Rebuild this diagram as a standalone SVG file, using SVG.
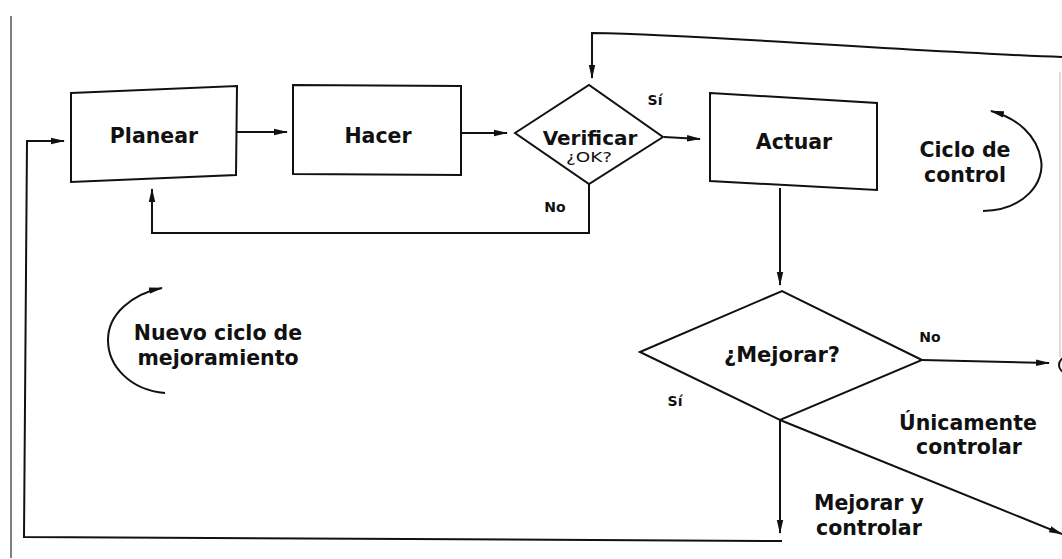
<svg xmlns="http://www.w3.org/2000/svg" width="1062" height="559" viewBox="0 0 1062 559">
  <style>
    .shape { fill: #fff; stroke: #111; stroke-width: 2; stroke-linejoin: miter; }
    .conn { fill: none; stroke: #111; stroke-width: 2; }
    .t { font-family: "DejaVu Sans", "Liberation Sans", sans-serif; font-weight: bold; fill: #111; text-anchor: middle; }
    .big { font-size: 20.5px; }
    .small { font-size: 14px; }
    .ok { font-family: "DejaVu Sans", "Liberation Sans", sans-serif; font-size: 14px; fill: #111; text-anchor: middle; }
  </style>
  <defs>
    <marker id="arr" markerUnits="userSpaceOnUse" markerWidth="14" markerHeight="8" refX="13" refY="4" orient="auto">
      <path d="M0,0.8 L14,4 L0,7.2 Z" fill="#111"/>
    </marker>
  </defs>
  <rect width="1062" height="559" fill="#fff"/>

  <!-- page edges -->
  <line x1="11" y1="16" x2="11" y2="558" stroke="#555" stroke-width="1.5"/>
  <line x1="1060" y1="72" x2="1060" y2="357" stroke="#bbb" stroke-width="1"/>

  <g id="connectors">
    <line class="conn" x1="237" y1="132" x2="287" y2="132" marker-end="url(#arr)"/>
    <line class="conn" x1="461" y1="133" x2="507" y2="133" marker-end="url(#arr)"/>
    <line class="conn" x1="664" y1="137" x2="700" y2="139" marker-end="url(#arr)"/>
    <path class="conn" d="M1062,57 C1000,55 900,49 800,43 C720,38 650,34 592,33 L592,78" marker-end="url(#arr)"/>
    <path class="conn" d="M589,184 L589,233 L152,233 L152,189" marker-end="url(#arr)"/>
    <path class="conn" d="M782,541 L24,537 L27,141 L64,141" marker-end="url(#arr)"/>
    <line class="conn" x1="780" y1="188" x2="780" y2="285" marker-end="url(#arr)"/>
    <line class="conn" x1="922" y1="360" x2="1049" y2="363" marker-end="url(#arr)"/>
    <line class="conn" x1="780" y1="420" x2="780" y2="533" marker-end="url(#arr)"/>
    <line class="conn" x1="780" y1="420" x2="1062" y2="534" marker-end="url(#arr)"/>
    <circle class="conn" cx="1067" cy="365" r="8"/>
    <path class="conn" d="M983,211 C1025,210 1045,182 1041,160 C1037,135 1017,118 991,111" marker-end="url(#arr)"/>
    <path class="conn" d="M165,393 C130,390 108,366 108,340 C108,314 132,294 162,288" marker-end="url(#arr)"/>
  </g>

  <g id="planear">
    <polygon class="shape" points="71,93 237,86 236,175 71,182"/>
    <text class="t big" x="154" y="143">Planear</text>
  </g>
  <g id="hacer">
    <polygon class="shape" points="293,85 461,86 461,175 293,174"/>
    <text class="t big" x="378" y="143">Hacer</text>
  </g>
  <g id="verificar">
    <polygon class="shape" points="515,133 589,85 663,137 589,184"/>
    <text class="t" x="590" y="145" font-size="20">Verificar</text>
    <text class="ok" x="589" y="162" textLength="46" lengthAdjust="spacingAndGlyphs">¿OK?</text>
  </g>
  <g id="actuar">
    <polygon class="shape" points="710,93 877,103 877,190 710,181"/>
    <text class="t big" x="794" y="149">Actuar</text>
  </g>
  <g id="mejorar">
    <polygon class="shape" points="640,352 782,291 922,360 780,420"/>
    <text class="t" x="782" y="362" font-size="21">¿Mejorar?</text>
  </g>

  <g id="labels">
    <text class="t small" x="655" y="105">Sí</text>
    <text class="t small" x="555" y="212">No</text>
    <text class="t small" x="930" y="342">No</text>
    <text class="t small" x="675" y="406">Sí</text>
    <text class="t big" x="965" y="157">Ciclo de</text>
    <text class="t big" x="965" y="182">control</text>
    <text class="t big" x="218" y="340">Nuevo ciclo de</text>
    <text class="t big" x="218" y="365">mejoramiento</text>
    <text class="t big" x="968" y="430">Únicamente</text>
    <text class="t big" x="969" y="454">controlar</text>
    <text class="t big" x="814" y="510" text-anchor="start" style="text-anchor:start">Mejorar y</text>
    <text class="t big" x="816" y="535" style="text-anchor:start">controlar</text>
  </g>
</svg>
